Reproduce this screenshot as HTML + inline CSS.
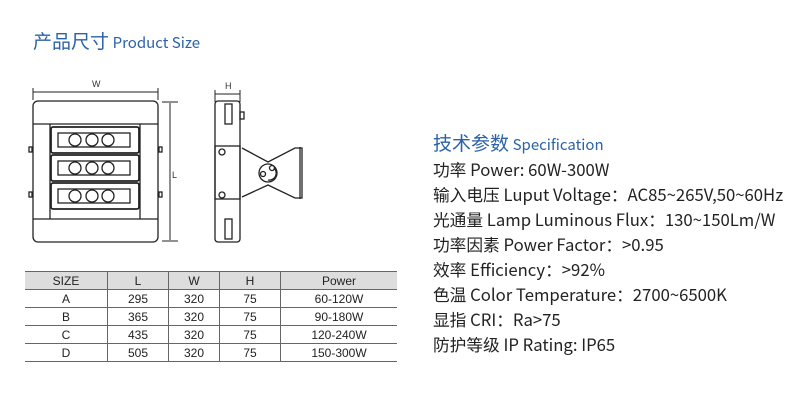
<!DOCTYPE html>
<html><head><meta charset="utf-8"><style>
body{margin:0;width:800px;height:400px;background:#fff;position:relative;overflow:hidden;font-family:"Noto Sans CJK SC",sans-serif}
.t{position:absolute;color:#2b62a8;white-space:nowrap}
.t .c{font-size:19px}.t .e{font-size:15px}
.s{position:absolute;left:433px;font-size:16.7px;color:#222;white-space:nowrap;line-height:20px}
table{position:absolute;left:25px;top:271px;width:372px;border-collapse:collapse;font-family:"Liberation Sans",sans-serif;font-size:12px;color:#222}
td{text-align:center;height:17px;padding:0;border-bottom:1px solid #666;border-left:1px solid #666}
td:first-child{border-left:none}
tr:first-child td{background:#ddd;border-top:1px solid #666}
</style></head><body>
<div class="t" style="left:33px;top:27px"><span class="c">产品尺寸</span> <span class="e">Product Size</span></div>
<div class="t" style="left:433px;top:129px"><span class="c">技术参数</span> <span class="e">Specification</span></div>
<div class="s" style="top:159px">功率 Power: 60W-300W</div>
<div class="s" style="top:184px">输入电压 Luput Voltage：AC85~265V,50~60Hz</div>
<div class="s" style="top:209px">光通量 Lamp Luminous Flux：130~150Lm/W</div>
<div class="s" style="top:234px">功率因素 Power Factor：&gt;0.95</div>
<div class="s" style="top:259px">效率 Efficiency：&gt;92%</div>
<div class="s" style="top:284px">色温 Color Temperature：2700~6500K</div>
<div class="s" style="top:309px">显指 CRI：Ra&gt;75</div>
<div class="s" style="top:334px">防护等级 IP Rating: IP65</div>
<svg style="position:absolute;left:0;top:0" width="800" height="400" fill="none" stroke="#222" stroke-width="1.3">
<text x="92" y="87" font-family="Liberation Sans" font-size="9" fill="#333" stroke="none">W</text>
<line x1="33" y1="92" x2="158" y2="92" stroke-width="1"/><line x1="33" y1="88" x2="33" y2="100" stroke-width="1"/><line x1="158" y1="88" x2="158" y2="100" stroke-width="1"/>
<rect x="33" y="101" width="125" height="141" rx="5"/>
<line x1="33" y1="124" x2="158" y2="124"/><line x1="33" y1="219" x2="158" y2="219"/>
<line x1="50" y1="124" x2="50" y2="219"/><line x1="140" y1="124" x2="140" y2="219"/>
<g id="m"><rect x="51" y="127" width="88" height="26" rx="2" stroke-width="1.8"/><rect x="58" y="133" width="72" height="14"/>
<circle cx="75" cy="140" r="6"/><circle cx="92" cy="140" r="6"/><circle cx="108" cy="140" r="6"/></g>
<use href="#m" y="28"/><use href="#m" y="56"/>
<rect x="29" y="147" width="3" height="5"/><rect x="29" y="192" width="3" height="5"/><rect x="159" y="147" width="3" height="5"/><rect x="159" y="192" width="3" height="5"/>
<text x="172" y="178" font-family="Liberation Sans" font-size="9" fill="#333" stroke="none">L</text>
<line x1="170" y1="103" x2="170" y2="240" stroke-width="1"/><line x1="162" y1="102" x2="178" y2="102" stroke-width="1"/><line x1="162" y1="241" x2="178" y2="241" stroke-width="1"/>
<text x="225" y="89" font-family="Liberation Sans" font-size="9" fill="#333" stroke="none">H</text>
<line x1="215" y1="94" x2="240" y2="94" stroke-width="1"/><line x1="215" y1="90" x2="215" y2="102" stroke-width="1"/><line x1="240" y1="90" x2="240" y2="102" stroke-width="1"/>
<rect x="215" y="101" width="25" height="141" rx="3"/>
<rect x="225" y="104" width="7" height="20"/><rect x="225" y="219" width="7" height="20"/>
<rect x="215" y="146" width="25" height="53"/>
<circle cx="222" cy="152" r="3"/><circle cx="222" cy="195" r="3"/>
<rect x="240" y="112" width="4" height="7"/>
<path d="M242 148 L268 162 L295 148 L302 148 L302 198 L295 198 L268 185 L242 197"/>
<line x1="300" y1="147" x2="300" y2="199"/>
<circle cx="268" cy="173" r="9"/><circle cx="263" cy="174" r="2.5"/><circle cx="272" cy="168" r="2.5"/>
<path d="M274 168 A7 7 0 0 1 268 180"/>
</svg>
<table>
<tr><td style="width:82px">SIZE</td><td style="width:60px">L</td><td style="width:50px">W</td><td style="width:60px">H</td><td>Power</td></tr>
<tr><td>A</td><td>295</td><td>320</td><td>75</td><td>60-120W</td></tr>
<tr><td>B</td><td>365</td><td>320</td><td>75</td><td>90-180W</td></tr>
<tr><td>C</td><td>435</td><td>320</td><td>75</td><td>120-240W</td></tr>
<tr><td>D</td><td>505</td><td>320</td><td>75</td><td>150-300W</td></tr>
</table>
</body></html>
